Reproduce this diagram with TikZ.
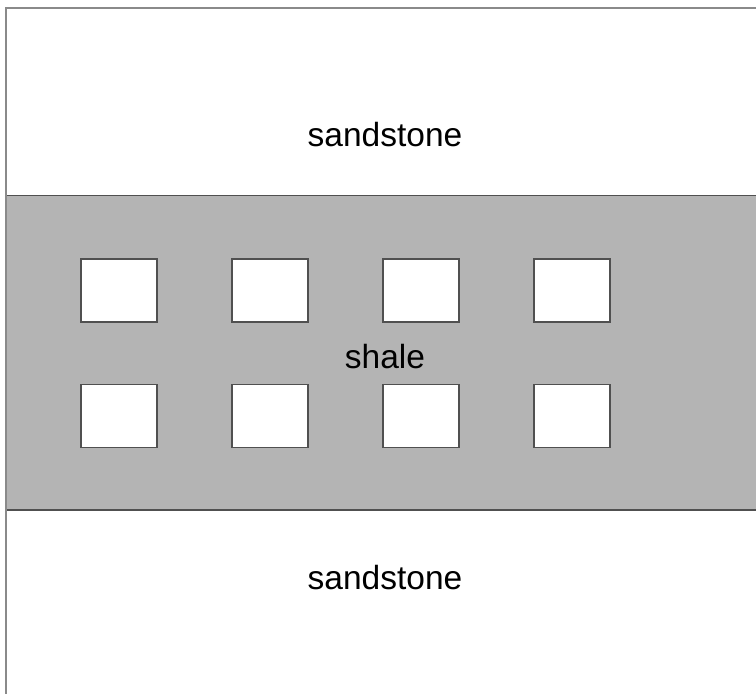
\documentclass[tikz,border=0pt]{standalone}
\usepackage{fontspec}
\setmainfont{Liberation Sans}
\definecolor{shalegray}{HTML}{B4B4B4}
\definecolor{framegray}{HTML}{8A8A8A}
\definecolor{linegray}{HTML}{505050}
\begin{document}
\begin{tikzpicture}[x=1pt,y=-1pt,
  hole/.style={draw=linegray,line width=1.5pt,fill=white},
  lbl/.style={font=\fontsize{33.5}{40}\selectfont,text=black,inner sep=0pt}]
\useasboundingbox (0,0) rectangle (756,694);
\fill[white] (0,0) rectangle (756,694);
% shale band
\fill[shalegray] (6,195.5) rectangle (756,510);
\draw[linegray,line width=1.5pt] (6,195.5) -- (756,195.5);
\draw[linegray,line width=1.5pt] (6,510) -- (756,510);
% frame
\draw[framegray,line width=2pt] (6,694) -- (6,7.5) -- (756,7.5);
% holes
\foreach \x [count=\i] in {81,232,383,534}{
  \draw[hole] (\x,259) rectangle ++(76,63) node[midway,inner sep=0pt] (t\i) {};
  \draw[hole] (\x,384.5) rectangle ++(76,63) node[midway,inner sep=0pt] (b\i) {};
}
\node[lbl] (top) at (385,135) {sandstone};
\node[lbl] (mid) at (385,357) {shale};
\node[lbl] (bot) at (385,578) {sandstone};
\end{tikzpicture}
\end{document}
